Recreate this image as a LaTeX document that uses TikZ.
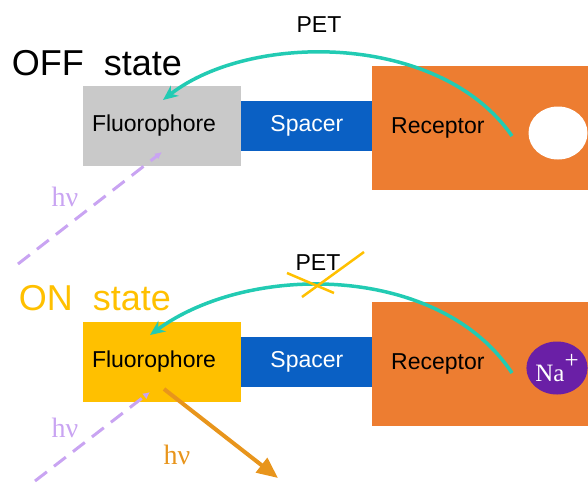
\documentclass[tikz,border=0pt]{standalone}
\usepackage{fontspec}
\setmainfont{Liberation Sans}
\newfontfamily\hvfont{Liberation Serif}
\usetikzlibrary{positioning,shapes.geometric,arrows.meta}

\definecolor{fluogrey}{HTML}{C9C9C9}
\definecolor{fluogold}{HTML}{FFC000}
\definecolor{spacerblue}{HTML}{0A60C4}
\definecolor{receptororange}{HTML}{ED7D31}
\definecolor{petteal}{HTML}{22CBB3}
\definecolor{hvviolet}{HTML}{C9A4F2}
\definecolor{emitorange}{HTML}{E8951C}
\definecolor{napurple}{HTML}{6A1FA6}

\tikzstyle{fluo} = [rectangle, minimum height=80pt, inner xsep=9pt, inner ysep=0pt, text width=140pt, align=left, font=\fontsize{23}{27}\selectfont]
\tikzstyle{spacerbox} = [rectangle, fill=spacerblue, text=white, minimum width=131pt, minimum height=50pt, inner sep=0pt, font=\fontsize{23}{27}\selectfont]
\tikzstyle{receptorbox} = [rectangle, fill=receptororange, minimum height=124pt, inner xsep=19pt, inner ysep=0pt, text width=178pt, align=left, font=\fontsize{23}{27}\selectfont]
\tikzstyle{statelabel} = [inner sep=0pt, font=\fontsize{36}{40}\selectfont]
\tikzstyle{pet} = [draw=petteal, line width=3.5pt, -{Stealth[length=15pt,width=13pt]}]
\tikzstyle{light} = [draw=hvviolet, line width=3pt, dash pattern=on 15pt off 9pt, -{Latex[length=7pt,width=7pt]}]
\tikzstyle{hv} = [inner sep=0pt, font=\hvfont\fontsize{28}{30}\selectfont]

\begin{document}
\begin{tikzpicture}[x=1pt,y=-1pt]
        \tikzset{node distance = 0pt and 0pt}
        \useasboundingbox (0,0) rectangle (588,483);
        % OFF state
        \node (offlabel) at (97,63) [statelabel] {OFF~~state};
        \node (fluooff) at (162,126) [fluo, fill=fluogrey] {Fluorophore};
        \node (spaceroff) [spacerbox, right=of fluooff] {Spacer};
        \node (recoff) at (372,128) [receptorbox, anchor=west] {Receptor};
        \node (siteoff) at (558,133) [ellipse, fill=white, minimum width=59pt, minimum height=53pt] {};
        \coordinate (petoff) at (512,136);
        \coordinate (hvoffin) at (18,264);
        \draw[pet] (petoff) .. controls (440,32) and (250,32) .. (163,100);
        \node (petofflabel) at (319,25) [font=\fontsize{23}{27}\selectfont] {PET};
        \draw[light] (hvoffin) -- (162,152);
        \node (hvoff) at (65,197) [hv, text=hvviolet] {hν};

        % ON state
        \node (onlabel) at (95,298) [statelabel, text=fluogold] {ON~~state};
        \node (fluoon) at (162,362) [fluo, fill=fluogold] {Fluorophore};
        \node (spaceron) [spacerbox, right=of fluoon] {Spacer};
        \node (recon) at (372,364) [receptorbox, anchor=west] {Receptor};
        \node (naion) at (557,368) [ellipse, fill=napurple, text=white, inner sep=0pt, minimum width=60pt, minimum height=53pt, font=\hvfont\fontsize{25}{27}\selectfont] {Na\raisebox{13pt}{+}};
        \coordinate (peton) at (512,373);
        \coordinate (hvonin) at (35,481);
        \coordinate (emitend) at (278,478);
        \draw[pet] (peton) .. controls (440,264) and (250,262) .. (150,335);
        \node (petonlabel) at (318,263) [font=\fontsize{23}{27}\selectfont] {PET};
        % crossed out transfer
        \draw[fluogold, line width=2.5pt] (287,273) -- (334,293);
        \draw[fluogold, line width=2.5pt] (364,252) -- (302,297);
        \draw[light] (hvonin) -- (150,392);
        \node (hvon) at (65,428) [hv, text=hvviolet] {hν};
        \draw[emitorange, line width=4pt, -{Triangle[length=21pt,width=18pt]}] (164,389) -- (emitend);
        \node (hvemit) at (177,455) [hv, text=emitorange] {hν};
    \end{tikzpicture}
\end{document}
